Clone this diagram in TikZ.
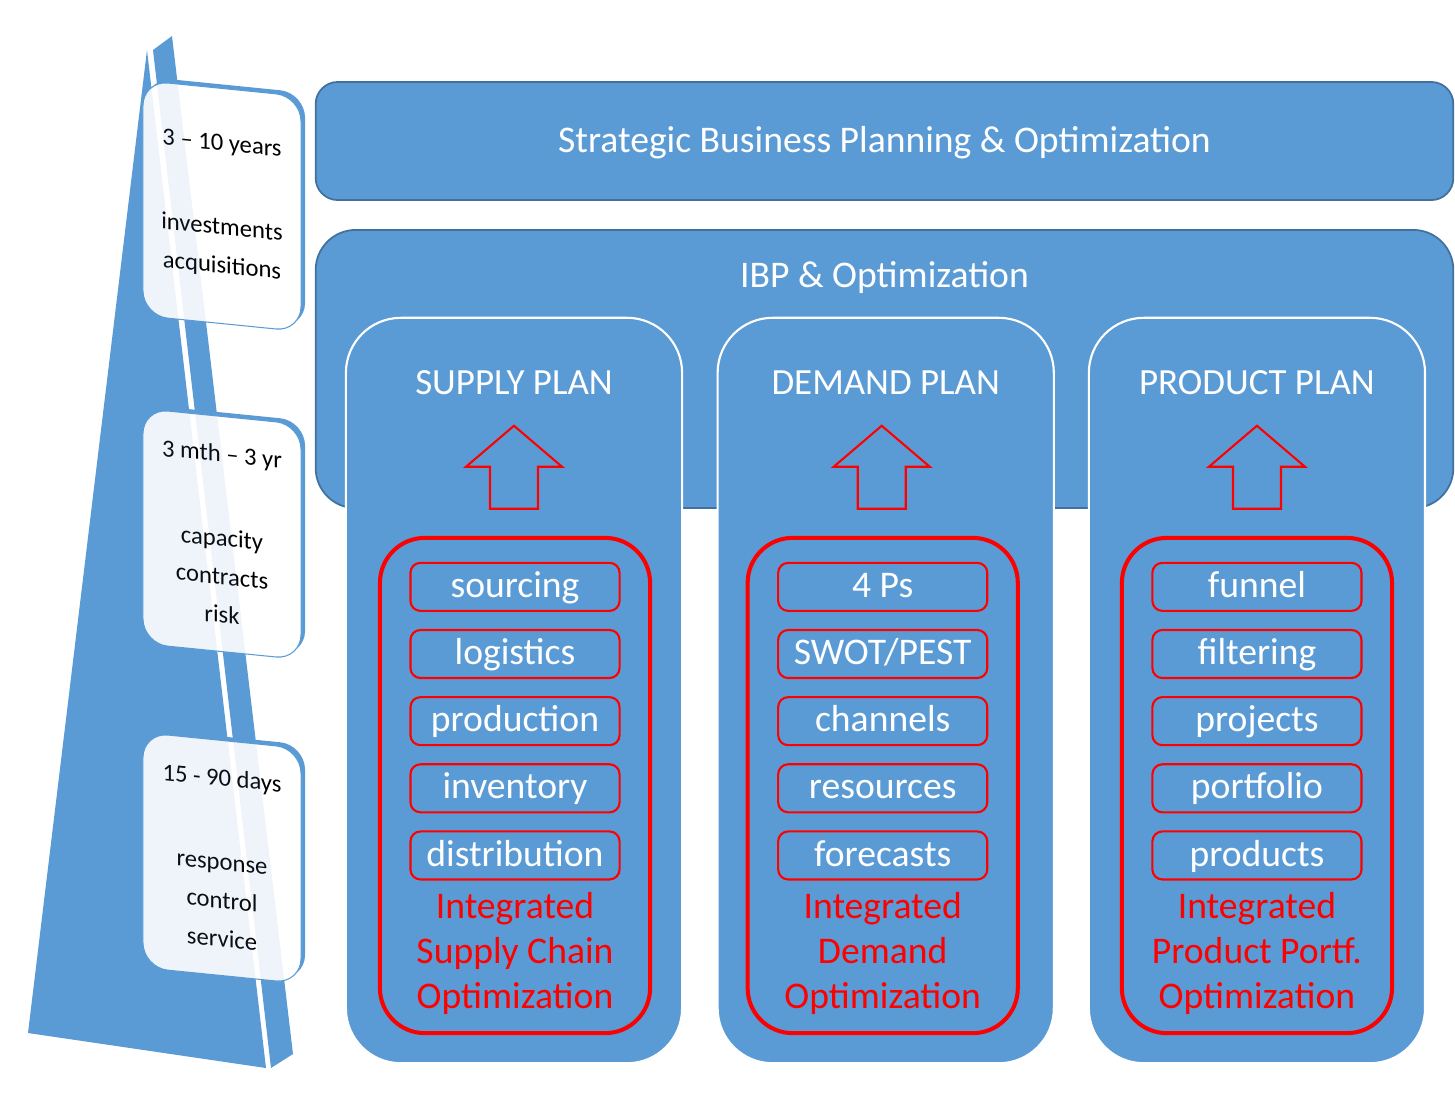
\documentclass[tikz,border=0pt]{standalone}
\usepackage{fontspec}
\setmainfont{Carlito}
\usepackage{xcolor}
\usepackage{tikz}
\usetikzlibrary{calc}
\usetikzlibrary{positioning}
\definecolor{ibpblue}{HTML}{5B9BD5}
\definecolor{ibpedge}{HTML}{41719C}
\definecolor{ibpred}{HTML}{FF0000}

\begin{document}
\begin{tikzpicture}[x=0.01cm,y=-0.01cm,node distance=0.17cm]
	\tikzstyle{bigbox}=[rectangle, draw=ibpedge, fill=ibpblue, line width=0.5pt, minimum width=11.37cm, text=white, font=\fontsize{10.7}{12.8}\selectfont]
	\tikzstyle{plancol}=[rectangle, draw=white, fill=ibpblue, line width=0.6pt, rounded corners=0.55cm, minimum width=3.36cm, minimum height=7.45cm, inner sep=0pt]
	\tikzstyle{plantitle}=[text=white, inner sep=0pt, font=\fontsize{10.5}{12.8}\selectfont]
	\tikzstyle{redbox}=[rectangle, draw=ibpred, line width=1.15pt, rounded corners=0.45cm, minimum width=2.7cm, minimum height=4.95cm]
	\tikzstyle{planitem}=[rectangle, draw=ibpred, line width=0.6pt, rounded corners=0.1cm, minimum width=2.09cm, minimum height=0.48cm, inner sep=0pt, text height=7.5pt, text depth=1.5pt, text=white, font=\fontsize{10.7}{12.8}\selectfont]
	\tikzstyle{redtext}=[text=ibpred, align=center, inner sep=0pt, font=\fontsize{10.7}{12.8}\selectfont]
	\tikzstyle{uparrow}=[draw=ibpred, line width=0.6pt]
	\tikzstyle{timecard}=[rectangle, draw=ibpblue, line width=0.3pt, fill=white, rounded corners=0.25cm, minimum width=1.58cm, minimum height=2.35cm, align=center, font=\fontsize{7}{10.9}\selectfont, transform shape]
	\tikzstyle{cardshadow}=[rectangle, fill=ibpblue, rounded corners=0.25cm, minimum width=1.58cm, minimum height=2.35cm, transform shape]
	\tikzstyle{tint}=[fill=ibpblue, fill opacity=0.1]

	\useasboundingbox (0,0) rectangle (1455,1111);

	% horizon wedge
	\fill[ibpblue] (147,50) -- (266,1068) -- (28,1033) -- cycle;
	\fill[ibpblue] (153,50) -- (172,36) -- (293,1054) -- (271,1068) -- cycle;

	% time cards
	\begin{scope}[shift={(222,206)}, yslant=-0.1]
		\node[cardshadow] (h1s) at (4,-4) {};
		\node[timecard] (h1) at (0,0) {3 \textendash{} 10 years\\[13pt]investments\\acquisitions};
	\end{scope}
	\begin{scope}[shift={(222,534)}, yslant=-0.1]
		\node[cardshadow] (h2s) at (4,-4) {};
		\node[timecard] (h2) at (0,0) {3 mth \textendash{} 3 yr\\[13pt]capacity\\contracts\\risk};
	\end{scope}
	\begin{scope}[shift={(222,858)}, yslant=-0.1]
		\node[cardshadow] (h3s) at (4,-4) {};
		\node[timecard] (h3) at (0,0) {15 - 90 days\\[13pt]response\\control\\service};
	\end{scope}
	\foreach \cy in {206,534,858}{
		\begin{scope}
			\clip[shift={(222,\cy)}, yslant=-0.1, rounded corners=0.25cm] (-79,-117.5) -- (79,-117.5) -- (79,117.5) -- (-79,117.5) -- cycle;
			\fill[tint] (147,50) -- (266,1068) -- (28,1033) -- cycle;
			\fill[tint] (153,50) -- (172,36) -- (293,1054) -- (271,1068) -- cycle;
		\end{scope}
	}

	% planning levels
	\node[bigbox, rounded corners=0.22cm, minimum height=1.18cm] (sbp) at (884.5,141) {};
	\node[plantitle, font=\fontsize{10.7}{12.8}\selectfont] (sbpt) at (884.5,143) {Strategic Business Planning \& Optimization};
	\node[bigbox, rounded corners=0.4cm, minimum height=2.78cm] (ibp) at (884.5,369) {};
	\node[plantitle, font=\fontsize{10.7}{12.8}\selectfont] (ibpt) at ($(ibp.north)+(0,48)$) {IBP \& Optimization};

	% plans
	\node[plancol] (sup) at (514,690.5) {};
	\node[plancol, on grid, right=3.715cm of sup] (dem) {};
	\node[plancol, on grid, right=3.71cm of dem] (pro) {};
	\node[plantitle] (supt) at ($(sup.north)+(0,66)$) {SUPPLY PLAN};
	\node[plantitle] (demt) at ($(dem.north)+(0,66)$) {DEMAND PLAN};
	\node[plantitle] (prot) at ($(pro.north)+(0,66)$) {PRODUCT PLAN};
	\draw[uparrow] ($(sup.north)+(0,109)$) -- ++(48,41) -- ++(-24,0) -- ++(0,42) -- ++(-48,0) -- ++(0,-42) -- ++(-24,0) -- cycle;
	\draw[uparrow] ($(dem.north)+(-4,109)$) -- ++(48,41) -- ++(-24,0) -- ++(0,42) -- ++(-48,0) -- ++(0,-42) -- ++(-24,0) -- cycle;
	\draw[uparrow] ($(pro.north)+(0,109)$) -- ++(48,41) -- ++(-24,0) -- ++(0,42) -- ++(-48,0) -- ++(0,-42) -- ++(-24,0) -- cycle;

	% supply chain
	\node[redbox] (supr) at ($(sup.center)+(1,95)$) {};
	\node[planitem] (s1) at ($(supr.north)+(0,51)$) {sourcing};
	\node[planitem, below=of s1] (s2) {logistics};
	\node[planitem, below=of s2] (s3) {production};
	\node[planitem, below=of s3] (s4) {inventory};
	\node[planitem, below=of s4] (s5) {distribution};
	\node[redtext] (supi) at ($(supr.center)+(0,167.5)$) {Integrated\\Supply Chain\\Optimization};

	% demand
	\node[redbox] (demr) at ($(dem.center)+(-3,95)$) {};
	\node[planitem] (d1) at ($(demr.north)+(0,51)$) {4 Ps};
	\node[planitem, below=of d1] (d2) {SWOT/PEST};
	\node[planitem, below=of d2] (d3) {channels};
	\node[planitem, below=of d3] (d4) {resources};
	\node[planitem, below=of d4] (d5) {forecasts};
	\node[redtext] (demi) at ($(demr.center)+(0,167.5)$) {Integrated\\Demand\\Optimization};

	% product portfolio
	\node[redbox] (pror) at ($(pro.center)+(0,95)$) {};
	\node[planitem] (p1) at ($(pror.north)+(0,51)$) {funnel};
	\node[planitem, below=of p1] (p2) {filtering};
	\node[planitem, below=of p2] (p3) {projects};
	\node[planitem, below=of p3] (p4) {portfolio};
	\node[planitem, below=of p4] (p5) {products};
	\node[redtext] (proi) at ($(pror.center)+(0,167.5)$) {Integrated\\Product Portf.\\Optimization};
\end{tikzpicture}
\end{document}
